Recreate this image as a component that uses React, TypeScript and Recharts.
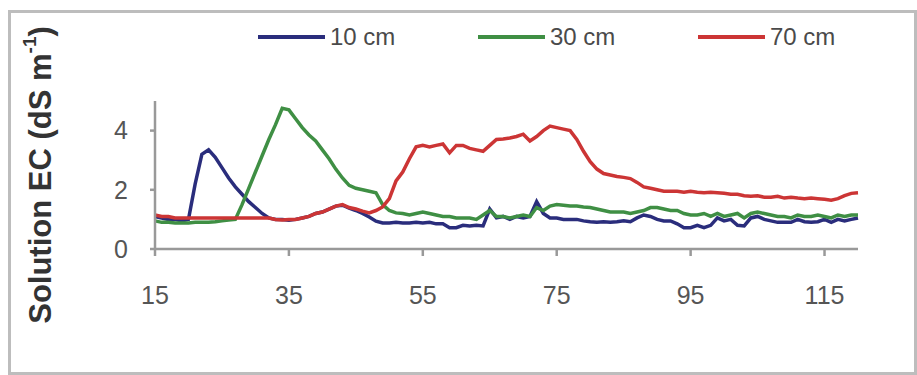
import { LineChart, Line, XAxis, YAxis, Legend } from 'recharts'

// days after start (x axis)
const days = [
  15, 16, 17, 18, 19, 20, 21, 22, 23, 24, 25, 26, 27, 28, 29, 30, 31, 32, 33, 34,
  35, 36, 37, 38, 39, 40, 41, 42, 43, 44, 45, 46, 47, 48, 49, 50, 51, 52, 53, 54,
  55, 56, 57, 58, 59, 60, 61, 62, 63, 64, 65, 66, 67, 68, 69, 70, 71, 72, 73, 74,
  75, 76, 77, 78, 79, 80, 81, 82, 83, 84, 85, 86, 87, 88, 89, 90, 91, 92, 93, 94,
  95, 96, 97, 98, 99, 100, 101, 102, 103, 104, 105, 106, 107, 108, 109, 110, 111, 112, 113, 114,
  115, 116, 117, 118, 119, 120,
]

const ec10 = [
  1.1, 1.05, 1.0, 1.0, 0.95, 1.0, 2.2, 3.2, 3.35, 3.1, 2.75, 2.4, 2.1, 1.85, 1.6, 1.4, 1.2, 1.05, 1.0, 1.0,
  0.97, 1.0, 1.05, 1.1, 1.2, 1.25, 1.35, 1.45, 1.48, 1.38, 1.3, 1.2, 1.08, 0.94, 0.88, 0.88, 0.9, 0.88, 0.88, 0.9,
  0.88, 0.9, 0.85, 0.85, 0.72, 0.72, 0.8, 0.78, 0.8, 0.78, 1.35, 1.05, 1.1, 1.0, 1.1, 1.05, 1.1, 1.6, 1.2, 1.05,
  1.05, 1.0, 1.0, 1.0, 0.95, 0.92, 0.9, 0.92, 0.9, 0.92, 0.95, 0.92, 1.05, 1.15, 1.1, 1.0, 0.95, 0.95, 0.85, 0.72,
  0.72, 0.8, 0.72, 0.8, 1.05, 0.95, 1.0, 0.8, 0.78, 1.05, 1.1, 1.0, 0.95, 0.9, 0.9, 0.9, 1.0, 0.92, 0.9, 0.92,
  1.0, 0.9, 1.0, 0.95, 1.0, 1.05,
]

const ec30 = [
  0.95, 0.9, 0.9, 0.88, 0.88, 0.88, 0.9, 0.9, 0.9, 0.92, 0.95, 0.98, 1.0, 1.5, 2.05, 2.6, 3.15, 3.7, 4.2, 4.75,
  4.7, 4.4, 4.1, 3.85, 3.65, 3.35, 3.05, 2.7, 2.4, 2.15, 2.05, 2.0, 1.95, 1.9, 1.5, 1.3, 1.22, 1.2, 1.15, 1.2,
  1.25, 1.2, 1.15, 1.1, 1.1, 1.05, 1.05, 1.05, 1.0, 1.15, 1.3, 1.1, 1.1, 1.05, 1.1, 1.15, 1.1, 1.4, 1.3, 1.45,
  1.5, 1.48, 1.45, 1.45, 1.42, 1.4, 1.35, 1.3, 1.25, 1.25, 1.25, 1.2, 1.25, 1.3, 1.4, 1.4, 1.35, 1.3, 1.3, 1.2,
  1.15, 1.15, 1.2, 1.1, 1.2, 1.1, 1.15, 1.2, 1.05, 1.2, 1.25, 1.2, 1.15, 1.1, 1.1, 1.05, 1.15, 1.1, 1.1, 1.15,
  1.1, 1.05, 1.15, 1.1, 1.15, 1.15,
]

const ec70 = [
  1.15, 1.1, 1.1, 1.05, 1.05, 1.05, 1.05, 1.05, 1.05, 1.05, 1.05, 1.05, 1.05, 1.05, 1.05, 1.05, 1.05, 1.05, 1.0, 0.98,
  1.0, 1.0, 1.05, 1.1, 1.2, 1.25, 1.35, 1.45, 1.5, 1.4, 1.35, 1.28, 1.22, 1.3, 1.42, 1.7, 2.3, 2.6, 3.05, 3.45,
  3.5, 3.45, 3.5, 3.55, 3.25, 3.5, 3.5, 3.4, 3.35, 3.3, 3.5, 3.7, 3.72, 3.75, 3.8, 3.88, 3.65, 3.8, 4.0, 4.15,
  4.1, 4.05, 4.0, 3.7, 3.3, 2.95, 2.7, 2.55, 2.5, 2.45, 2.42, 2.38, 2.25, 2.1, 2.05, 2.0, 1.95, 1.95, 1.95, 1.92,
  1.95, 1.92, 1.9, 1.92, 1.9, 1.88, 1.85, 1.85, 1.8, 1.78, 1.8, 1.75, 1.75, 1.78, 1.72, 1.75, 1.72, 1.7, 1.72, 1.7,
  1.68, 1.65, 1.7, 1.8, 1.88, 1.9,
]

const xTicks = [15, 35, 55, 75, 95, 115]
const yTicks = [0, 2, 4]

const data = days.map((d, i) => ({ day: d, c10: ec10[i], c30: ec30[i], c70: ec70[i] }))

const font = '"Liberation Sans", Arial, sans-serif'
const tickStyle = { fill: '#555', fontSize: 25, fontFamily: font }

function renderLegend(props: any) {
  const items = props.payload || []
  return (
    <div style={{ display: 'flex', fontFamily: font }}>
      {items.map((it: any) => (
        <div key={it.value} style={{ width: 230, display: 'flex', alignItems: 'center' }}>
          <svg width={72} height={8}>
            <line x1={0} y1={4} x2={67} y2={4} stroke={it.color} strokeWidth={4} />
          </svg>
          <span style={{ fontSize: 24, color: '#4a4a4a', lineHeight: '26px' }}>{it.value}</span>
        </div>
      ))}
    </div>
  )
}

function YLabel() {
  return (
    <text
      transform="rotate(-90, 40, 175)"
      x={40}
      y={175}
      textAnchor="middle"
      dominantBaseline="central"
      fontFamily={font}
      fontWeight="bold"
      fontSize={31}
      fill="#333"
    >
      Solution EC (dS m<tspan dy={-11} fontSize={19}>-1</tspan><tspan dy={11}>)</tspan>
    </text>
  )
}

export default function App() {
  return (
    <div style={{ position: 'absolute', left: 0, top: 0, width: 917, height: 375, background: '#fff' }}>
      <div style={{
        position: 'absolute', left: 8, top: 10, width: 903, height: 359,
        border: '3px solid #bdbdbd',
      }} />
      <div style={{ position: 'absolute', left: 0, top: 0 }}>
        <LineChart width={917} height={375} data={data} margin={{ top: 75, right: 59, bottom: 0, left: 0 }}>
          <XAxis
            dataKey="day"
            type="number"
            domain={[15, 120]}
            ticks={xTicks}
            height={126}
            tick={tickStyle}
            tickSize={7}
            tickMargin={30}
            stroke="#999"
            strokeWidth={2.5}
          />
          <YAxis
            type="number"
            domain={[0, 5]}
            ticks={yTicks}
            width={155}
            tick={tickStyle}
            tickSize={5}
            tickMargin={22}
            stroke="#999"
            strokeWidth={2.5}
            label={<YLabel />}
          />
          <Legend
            verticalAlign="top"
            content={renderLegend}
            wrapperStyle={{ top: 24, left: 258, width: 660 }}
          />
          <Line type="linear" dataKey="c10" name="10 cm" stroke="#2a2d7c" strokeWidth={3.5} dot={false} isAnimationActive={false} />
          <Line type="linear" dataKey="c30" name="30 cm" stroke="#3f8f44" strokeWidth={3.5} dot={false} isAnimationActive={false} />
          <Line type="linear" dataKey="c70" name="70 cm" stroke="#cc3535" strokeWidth={3.5} dot={false} isAnimationActive={false} />
        </LineChart>
      </div>
    </div>
  )
}
